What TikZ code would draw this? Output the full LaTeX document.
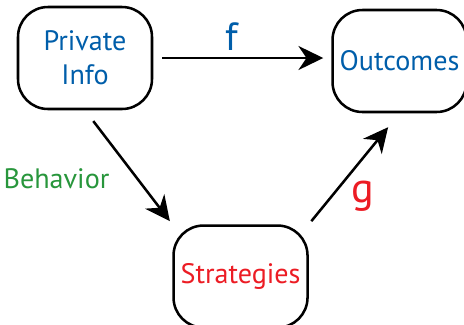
\documentclass[tikz,border=0pt]{standalone}
\usepackage{fontspec}
\setmainfont{PT Sans}
\usetikzlibrary{positioning, arrows.meta}

\definecolor{infoblue}{RGB}{0,94,170}
\definecolor{behgreen}{RGB}{40,150,60}
\definecolor{stratred}{RGB}{236,28,36}

\tikzset{
    box/.style={draw, line width=1.8pt, rounded corners=0.75cm,
        minimum width=3.35cm, minimum height=2.55cm, align=center,
        font=\fontsize{20}{24}\selectfont},
    link/.style={line width=1.8pt, -{Stealth[length=0.62cm, width=0.6cm, inset=0.2cm]}}
}

\begin{document}
\begin{tikzpicture}
            \useasboundingbox (0,0) rectangle (11.6,-8.1);

            \node[box, text=infoblue] (info) at (2.125,-1.45) {Private\\Info};

            \node[box, text=infoblue, right=4.45cm of info, yshift=-0.075cm] (outcomes) {Outcomes};

            \node[box, text=stratred, below right=2.85cm and 0.475cm of info] (strategies) {Strategies};

            \draw[link, shorten <=0.22cm, shorten >=0.2cm] (info.east) -- (outcomes.west |- info.east)
                node[midway, above=0.05cm, xshift=-0.25cm, text=infoblue, font=\fontsize{28}{28}\selectfont] (flabel) {f};
            \draw[link, shorten <=0.34cm, shorten >=0.1cm] (info.south) -- (strategies.north west)
                node[pos=0.6, left=0.55cm, text=behgreen, font=\fontsize{20}{20}\selectfont] (behlabel) {Behavior};
            \draw[link, shorten <=0.1cm, shorten >=0.45cm] (strategies.north east) -- (outcomes.south)
                node[pos=0.25, right=0.35cm, text=stratred, font=\fontsize{30}{30}\selectfont] (glabel) {g};

\end{tikzpicture}
\end{document}
